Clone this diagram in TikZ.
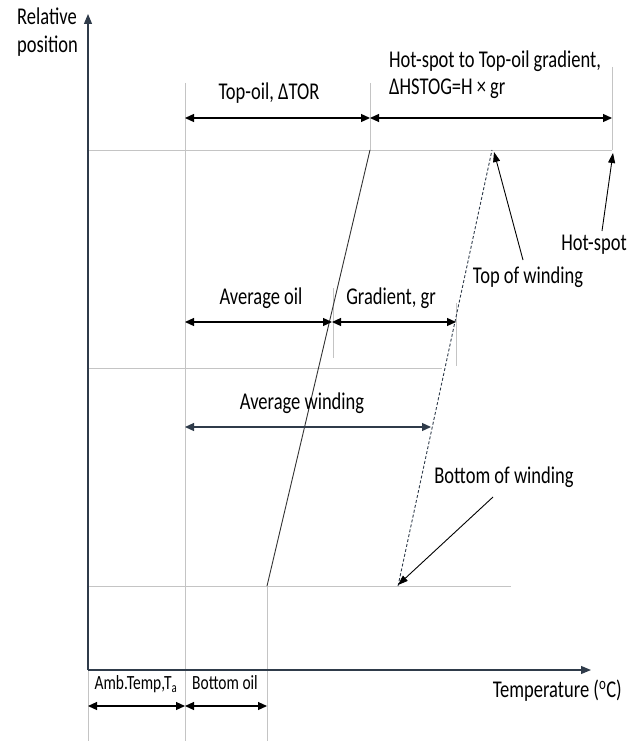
\documentclass[tikz,border=0pt]{standalone}
\usepackage{graphicx}
\usepackage{fontspec}
\setmainfont{Carlito}
\usetikzlibrary{arrows.meta}
\definecolor{axiscol}{HTML}{2F3B4A}
\definecolor{guide}{HTML}{C4C4C4}
\newcommand{\vt}[1]{\scalebox{1}[1.3]{#1}}
\begin{document}
\begin{tikzpicture}[x=1pt,y=-1pt,
  font=\fontsize{18.5}{21}\selectfont,
  guideline/.style={draw=guide, line width=0.9pt},
  axisline/.style={draw=axiscol, line width=1.1pt, -{Triangle[width=8pt,length=10pt]}},
  dim/.style={{Triangle[width=8pt,length=9pt]}-{Triangle[width=8pt,length=9pt]}, line width=1.2pt},
  pointer/.style={-{Triangle[width=7pt,length=10pt]}, line width=0.9pt},
  lbl/.style={inner sep=0pt},
  small/.style={inner sep=0pt, font=\fontsize{15.5}{18}\selectfont}]
\useasboundingbox (0,0) rectangle (628,741);
% coordinates
\coordinate (O) at (88,670);
\coordinate (ytip) at (88,14);
\coordinate (xtip) at (591,670);
\coordinate (ybot) at (88,741);
\coordinate (g1t) at (185,83);   \coordinate (g1b) at (185,741);
\coordinate (g2t) at (267,586);  \coordinate (g2b) at (267,741);
\coordinate (g3t) at (370,83);   \coordinate (g3b) at (370,150);
\coordinate (g4t) at (612,67);   \coordinate (g4b) at (612,150);
\coordinate (h1l) at (88,150);   \coordinate (h1r) at (612,150);
\coordinate (h2l) at (88,368);   \coordinate (h2r) at (442,368);
\coordinate (h3l) at (88,586);   \coordinate (h3r) at (511,586);
\coordinate (g5t) at (333,288);  \coordinate (g5b) at (333,358);
\coordinate (g6t) at (456,303);  \coordinate (g6b) at (456,366);
% oil and winding lines
\coordinate (oilb) at (267,586); \coordinate (oilt) at (370,150);
\coordinate (winb) at (398,586); \coordinate (wint) at (492,150);
% dimension ends
\coordinate (a1) at (185,118); \coordinate (a2) at (370,118); \coordinate (a3) at (612,118);
\coordinate (b1) at (185,322); \coordinate (b2) at (332,322); \coordinate (b3) at (456,322);
\coordinate (c1) at (185,427); \coordinate (c2) at (431,427);
\coordinate (d1) at (88,706); \coordinate (d2) at (185,706); \coordinate (d3) at (267,706);
% pointer ends
\coordinate (ptw) at (523,260); \coordinate (ptwh) at (494,152);
\coordinate (phs) at (602,231); \coordinate (phsh) at (613,153);
\coordinate (pbw) at (493,497); \coordinate (pbwh) at (398,585);

% guides
\draw[guideline] (g1t) -- (g1b);
\draw[guideline] (g2t) -- (g2b);
\draw[guideline] (g3t) -- (g3b);
\draw[guideline] (g4t) -- (g4b);
\draw[guideline] (h1l) -- (h1r);
\draw[guideline] (h2l) -- (h2r);
\draw[guideline] (h3l) -- (h3r);
\draw[guideline] (g5t) -- (g5b);
\draw[guideline] (g6t) -- (g6b);
\draw[guideline] (O) -- (ybot);

% axes
\draw[axisline] (O) -- (ytip);
\draw[axisline] (O) -- (xtip);

% temperature profiles
\draw[line width=0.9pt, black!80] (oilb) -- (oilt);
\draw[line width=0.9pt, axiscol, dashed, dash pattern=on 3pt off 2pt] (winb) -- (wint);

% dimension arrows
\draw[dim] (a1) -- (a2);
\draw[dim] (a2) -- (a3);
\draw[dim] (b1) -- (b2);
\draw[dim] (b2) -- (b3);
\draw[dim, axiscol] (c1) -- (c2);
\draw[dim] (d1) -- (d2);
\draw[dim] (d2) -- (d3);

% pointers
\draw[pointer] (ptw) -- (ptwh);
\draw[pointer] (phs) -- (phsh);
\draw[pointer] (pbw) -- (pbwh);

% labels
\node[lbl, anchor=west] (relpos) at (17,33) {\vt{\begin{tabular}{@{}l@{}}Relative\\position\end{tabular}}};
\node[lbl] (ltor) at (269,93) {\vt{Top-oil, ΔTOR}};
\node[lbl, anchor=west] (lhs1) at (389,61) {\vt{Hot-spot to Top-oil gradient,}};
\node[lbl, anchor=west] (lhs2) at (389,89) {\vt{ΔHSTOG=H × gr}};
\node[lbl] (lavo) at (261,298) {\vt{Average oil}};
\node[lbl] (lgr) at (391,298) {\vt{Gradient, gr}};
\node[lbl] (lavw) at (302,403) {\vt{Average winding}};
\node[lbl] (lbw) at (504,477) {\vt{Bottom of winding}};
\node[lbl] (ltw) at (528,277) {\vt{Top of winding}};
\node[lbl] (lhs) at (594,245) {\vt{Hot-spot}};
\node[lbl, anchor=east] (ltemp) at (622,691) {\vt{Temperature (\textsuperscript{o}C)}};
\node[small] (lamb) at (136,684) {\vt{Amb.Temp,T\textsubscript{a}}};
\node[small] (lbo) at (225,683) {\vt{Bottom oil}};
\end{tikzpicture}
\end{document}
